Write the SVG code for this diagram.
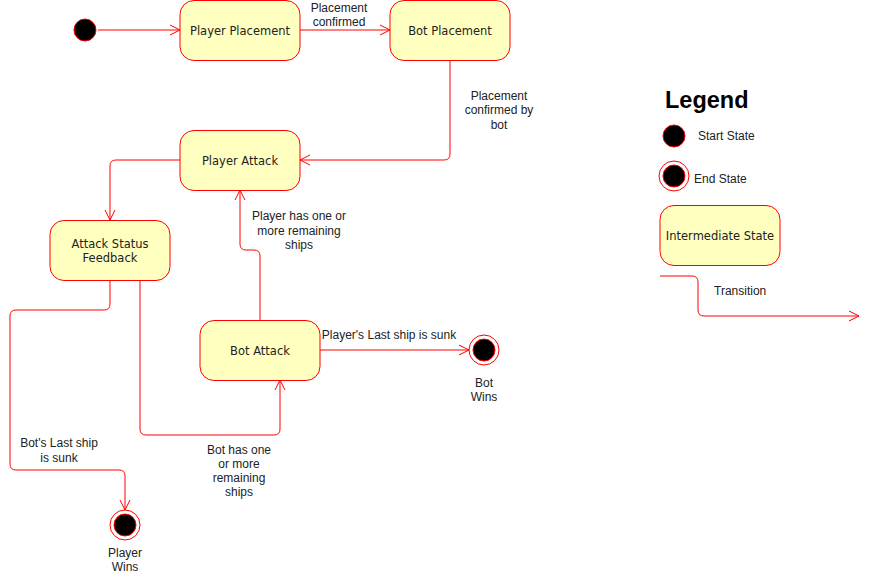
<svg xmlns="http://www.w3.org/2000/svg" width="870" height="574" viewBox="0 0 870 574">
<style>
.state{fill:#FFFFC0;stroke:#FF0000;stroke-width:1}
.lbl{font-family:"DejaVu Sans",sans-serif;font-size:11.5px;fill:#222;text-anchor:middle}
.el{font-family:"Liberation Sans",Arial,sans-serif;font-size:12px;fill:#222;text-anchor:middle}
.edge{fill:none;stroke:#FF0000;stroke-width:1}
.start{fill:#000;stroke:#FF0000;stroke-width:1}
.endo{fill:none;stroke:#FF0000;stroke-width:1}
</style>
<defs>
<marker id="arr" markerUnits="userSpaceOnUse" markerWidth="12" markerHeight="12" viewBox="0 0 12 12" refX="11" refY="6" orient="auto">
<path d="M1,1 L11,6 L1,11" fill="none" stroke="#FF0000" stroke-width="1"/>
</marker>
</defs>
<rect width="870" height="574" fill="#fff"/>
<g id="start"><circle class="start" cx="85" cy="30" r="11"/></g>
<g id="player-placement"><rect class="state" x="180" y="0.5" width="120" height="60" rx="14"/><text class="lbl" x="240" y="35">Player Placement</text></g>
<g id="bot-placement"><rect class="state" x="390" y="0.5" width="120" height="60" rx="14"/><text class="lbl" x="450" y="35">Bot Placement</text></g>
<g id="player-attack"><rect class="state" x="180" y="130.5" width="120" height="60" rx="14"/><text class="lbl" x="240" y="165">Player Attack</text></g>
<g id="attack-status"><rect class="state" x="50" y="220.5" width="120" height="60" rx="14"/><text class="lbl" x="110" y="248">Attack Status</text><text class="lbl" x="110" y="262">Feedback</text></g>
<g id="bot-attack"><rect class="state" x="200" y="320.5" width="120" height="60" rx="14"/><text class="lbl" x="260" y="355">Bot Attack</text></g>
<g id="bot-wins"><circle class="endo" cx="484" cy="350" r="15"/><circle class="start" cx="484" cy="350" r="11"/><text class="el" x="484" y="387">Bot</text><text class="el" x="484" y="401">Wins</text></g>
<g id="player-wins"><circle class="endo" cx="125" cy="525" r="15"/><circle class="start" cx="125" cy="525" r="11"/><text class="el" x="125" y="557">Player</text><text class="el" x="125" y="571">Wins</text></g>
<g id="connectors">
<path class="edge" marker-end="url(#arr)" d="M98,30 L180,30"/>
<path class="edge" marker-end="url(#arr)" d="M300,30 L390,30"/>
<text class="el" x="339" y="12">Placement</text><text class="el" x="339" y="26">confirmed</text>
<path class="edge" marker-end="url(#arr)" d="M450,60 L450,154 Q450,160 444,160 L300,160"/>
<text class="el" x="499" y="100">Placement</text><text class="el" x="499" y="114">confirmed by</text><text class="el" x="499" y="129">bot</text>
<path class="edge" marker-end="url(#arr)" d="M180,160 L116,160 Q110,160 110,166 L110,220"/>
<path class="edge" marker-end="url(#arr)" d="M260,320 L260,256 Q260,250 254,250 L246,250 Q240,250 240,244 L240,190"/>
<text class="el" x="299" y="220">Player has one or</text><text class="el" x="299" y="235">more remaining</text><text class="el" x="299" y="249">ships</text>
<path class="edge" marker-end="url(#arr)" d="M140,280 L140,429 Q140,435 146,435 L274,435 Q280,435 280,429 L280,380"/>
<text class="el" x="239" y="454">Bot has one</text><text class="el" x="239" y="468">or more</text><text class="el" x="239" y="482">remaining</text><text class="el" x="239" y="496">ships</text>
<path class="edge" marker-end="url(#arr)" d="M110,280 L110,304 Q110,310 104,310 L16,310 Q10,310 10,316 L10,464 Q10,470 16,470 L119,470 Q125,470 125,476 L125,510"/>
<text class="el" x="59" y="447">Bot's Last ship</text><text class="el" x="59" y="462">is sunk</text>
<path class="edge" marker-end="url(#arr)" d="M320,350 L469,350"/>
<text class="el" x="389" y="339">Player's Last ship is sunk</text>
</g>
<g id="legend">
<text x="665" y="108" font-family="'Liberation Sans',Arial,sans-serif" font-size="23.5" font-weight="bold" fill="#000">Legend</text>
<circle class="start" cx="674" cy="136" r="11"/>
<text class="el" x="698" y="140" style="text-anchor:start">Start State</text>
<circle class="endo" cx="674" cy="176" r="15"/><circle class="start" cx="674" cy="176" r="11"/>
<text class="el" x="694" y="183" style="text-anchor:start">End State</text>
<rect class="state" x="660" y="205.5" width="120" height="60" rx="14"/>
<text class="lbl" x="720" y="240">Intermediate State</text>
<path class="edge" marker-end="url(#arr)" d="M660,276 L692,276 Q698,276 698,282 L698,310 Q698,316 704,316 L859,316"/>
<text class="el" x="714" y="295" style="text-anchor:start">Transition</text>
</g>
</svg>
